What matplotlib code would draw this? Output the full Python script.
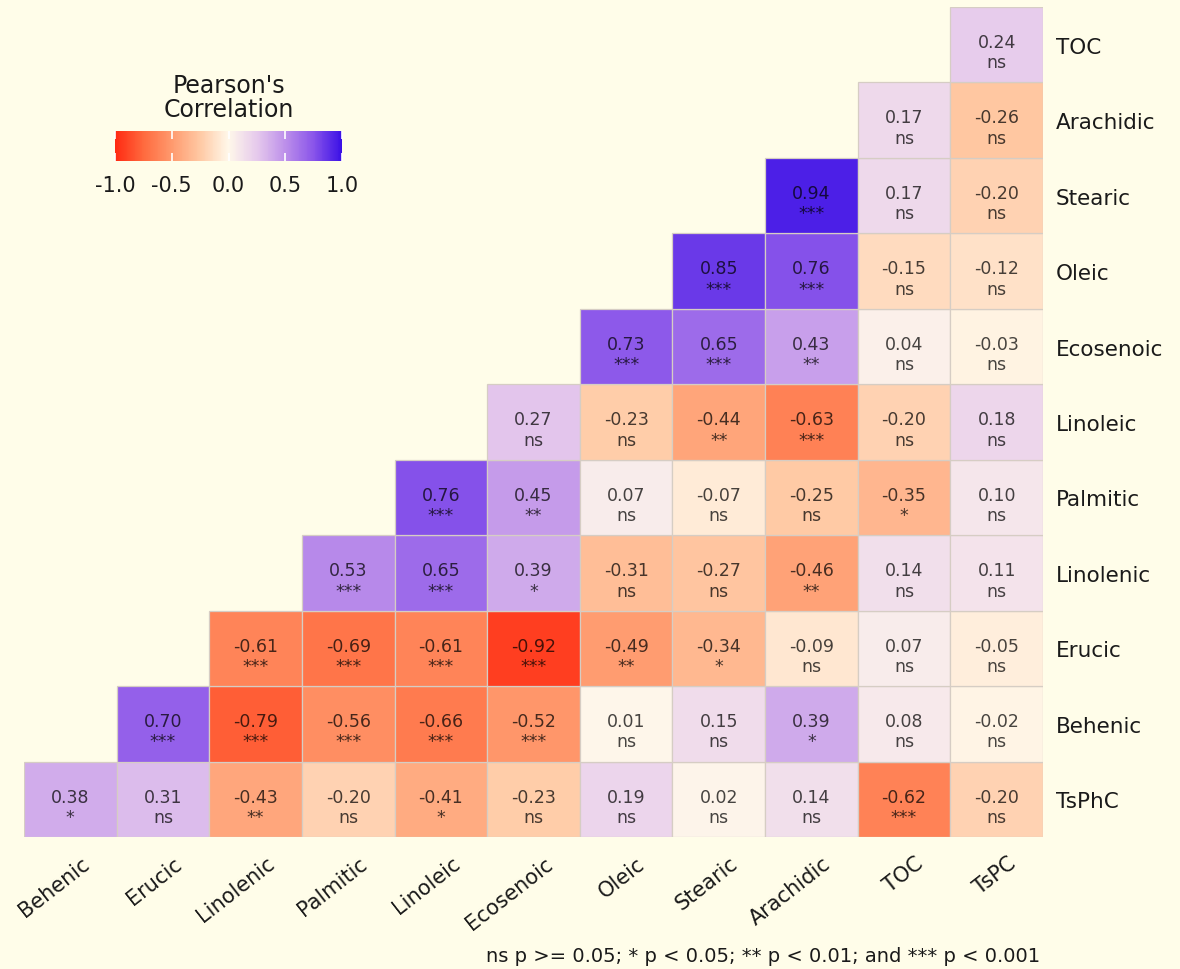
import numpy as np
import matplotlib
matplotlib.use("Agg")
import matplotlib.pyplot as plt
from matplotlib.colors import LinearSegmentedColormap, Normalize
from matplotlib.patches import Rectangle

# variables on each axis (rows listed bottom to top)
x_vars = ["Behenic", "Erucic", "Linolenic", "Palmitic", "Linoleic", "Ecosenoic",
          "Oleic", "Stearic", "Arachidic", "TOC", "TsPC"]
y_vars = ["TsPhC", "Behenic", "Erucic", "Linolenic", "Palmitic", "Linoleic",
          "Ecosenoic", "Oleic", "Stearic", "Arachidic", "TOC"]

# lower-triangle correlations, row j holds columns j..10
r_tsphc = [0.38, 0.31, -0.43, -0.20, -0.41, -0.23, 0.19, 0.02, 0.14, -0.62, -0.20]
r_behenic = [0.70, -0.79, -0.56, -0.66, -0.52, 0.01, 0.15, 0.39, 0.08, -0.02]
r_erucic = [-0.61, -0.69, -0.61, -0.92, -0.49, -0.34, -0.09, 0.07, -0.05]
r_linolenic = [0.53, 0.65, 0.39, -0.31, -0.27, -0.46, 0.14, 0.11]
r_palmitic = [0.76, 0.45, 0.07, -0.07, -0.25, -0.35, 0.10]
r_linoleic = [0.27, -0.23, -0.44, -0.63, -0.20, 0.18]
r_ecosenoic = [0.73, 0.65, 0.43, 0.04, -0.03]
r_oleic = [0.85, 0.76, -0.15, -0.12]
r_stearic = [0.94, 0.17, -0.20]
r_arachidic = [0.17, -0.26]
r_toc = [0.24]

p_tsphc = ["*", "ns", "**", "ns", "*", "ns", "ns", "ns", "ns", "***", "ns"]
p_behenic = ["***", "***", "***", "***", "***", "ns", "ns", "*", "ns", "ns"]
p_erucic = ["***", "***", "***", "***", "**", "*", "ns", "ns", "ns"]
p_linolenic = ["***", "***", "*", "ns", "ns", "**", "ns", "ns"]
p_palmitic = ["***", "**", "ns", "ns", "ns", "*", "ns"]
p_linoleic = ["ns", "ns", "**", "***", "ns", "ns"]
p_ecosenoic = ["***", "***", "**", "ns", "ns"]
p_oleic = ["***", "***", "ns", "ns"]
p_stearic = ["***", "ns", "ns"]
p_arachidic = ["ns", "ns"]
p_toc = ["ns"]

corr_rows = [r_tsphc, r_behenic, r_erucic, r_linolenic, r_palmitic, r_linoleic,
             r_ecosenoic, r_oleic, r_stearic, r_arachidic, r_toc]
sig_rows = [p_tsphc, p_behenic, p_erucic, p_linolenic, p_palmitic, p_linoleic,
            p_ecosenoic, p_oleic, p_stearic, p_arachidic, p_toc]

cbar_ticks = [-1.0, -0.5, 0.0, 0.5, 1.0]
cbar_labels = ["-1.0", "-0.5", "0.0", "0.5", "1.0"]
caption = "ns p >= 0.05; * p < 0.05; ** p < 0.01; and *** p < 0.001"

bg = "#FFFDE9"
plt.rcParams["font.family"] = ["DejaVu Sans"]

# red - cream - blue diverging scale
cmap = LinearSegmentedColormap.from_list("corr", [
    (0.000, "#FF2A12"), (0.125, "#FF6A3E"), (0.250, "#FF9A6E"),
    (0.375, "#FFC9A4"), (0.500, "#FFF8EA"), (0.625, "#E6CAEC"),
    (0.750, "#BD90EA"), (0.875, "#8A55EA"), (1.000, "#3A10E6")])
norm = Normalize(-1, 1)

n = len(x_vars)

fig = plt.figure(figsize=(11.8, 9.7), dpi=100, facecolor=bg)
ax = fig.add_axes([24 / 1180, 1 - 838 / 970, 1019 / 1180, 830 / 970])
ax.set_facecolor(bg)

# one tile per pair, with value and significance
for j in range(n):
    for i in range(j, n):
        v = corr_rows[j][i - j]
        s = sig_rows[j][i - j]
        ax.add_patch(Rectangle((i - 0.5, j - 0.5), 1, 1, facecolor=cmap(norm(v)),
                               edgecolor="#D6CDC4", linewidth=0.9))
        ax.text(i, j - 0.03, f"{v:.2f}", ha="center", va="baseline",
                fontsize=12.5, color="black", alpha=0.72)
        ax.text(i, j - 0.30, s, ha="center", va="baseline",
                fontsize=12.5, color="black", alpha=0.72)

ax.set_xlim(-0.5, n - 0.5)
ax.set_ylim(-0.5, n - 0.5)
for sp in ax.spines.values():
    sp.set_visible(False)

ax.yaxis.tick_right()
ax.set_yticks(range(n))
ax.set_yticklabels(y_vars, fontsize=15.5, color="#1a1a1a")
ax.set_xticks(np.arange(n) + 0.18)
ax.set_xticklabels(x_vars, fontsize=15, color="#1a1a1a", rotation=38,
                   ha="right", va="center", rotation_mode="anchor")
ax.tick_params(length=0)
ax.tick_params(axis="y", pad=9)
ax.tick_params(axis="x", pad=17)

# legend colour bar
cax = fig.add_axes([115 / 1180, 1 - 162 / 970, 227 / 1180, 30 / 970])
sm = plt.cm.ScalarMappable(norm=norm, cmap=cmap)
cb = fig.colorbar(sm, cax=cax, orientation="horizontal")
cb.outline.set_visible(False)
cb.set_ticks(cbar_ticks)
cb.set_ticklabels(cbar_labels)
cax.tick_params(axis="x", direction="in", color="white", length=6, width=1.2,
                top=True, labelsize=15, labelcolor="#1a1a1a", pad=10)
fig.text(229 / 1180, 1 - 98 / 970, "Pearson's\nCorrelation", ha="center",
         va="center", fontsize=17, color="#1a1a1a", linespacing=1.05)

fig.text(1040 / 1180, 1 - 957 / 970, caption, ha="right", va="center",
         fontsize=14, color="#1a1a1a")

fig.savefig("out.png", dpi=100, facecolor=bg)
